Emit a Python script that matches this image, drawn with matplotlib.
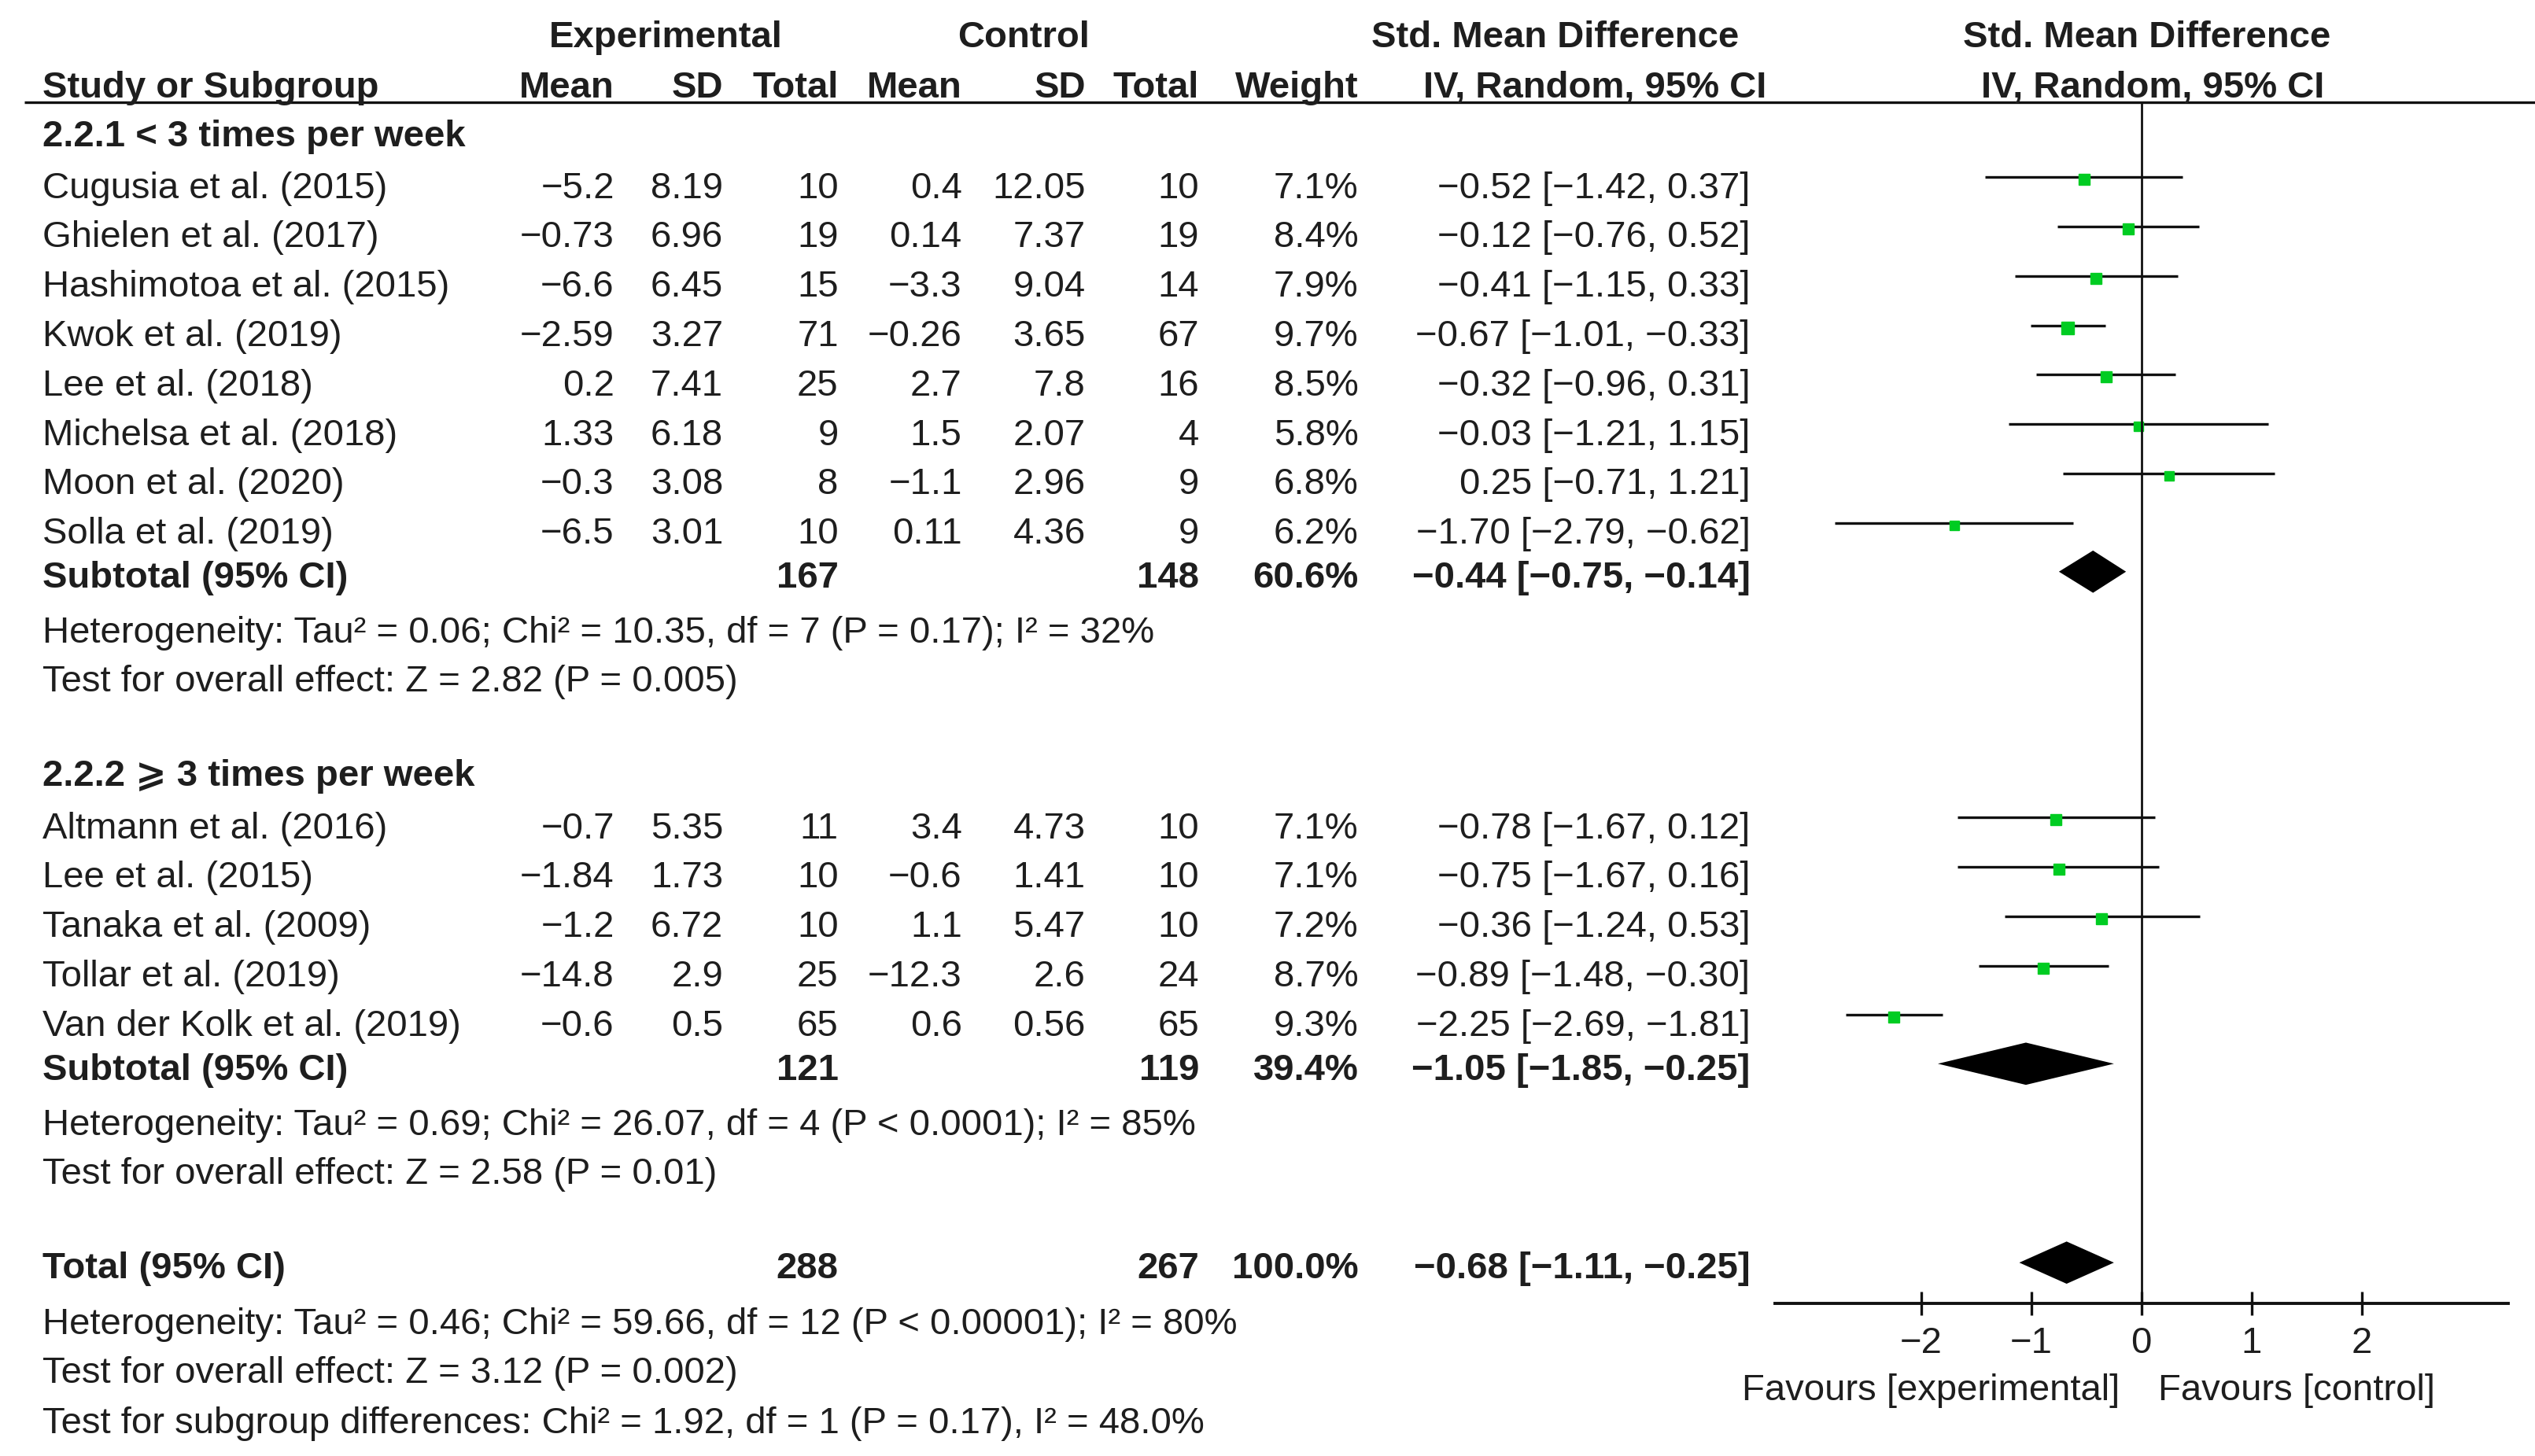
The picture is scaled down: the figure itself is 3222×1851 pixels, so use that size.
import numpy as np
import matplotlib
matplotlib.use('Agg')
import matplotlib.pyplot as plt

plt.rcParams['font.family'] = ['Liberation Sans', 'DejaVu Sans']

# --- datos ---
estudios_1 = ['Cugusia et al. (2015)', 'Ghielen et al. (2017)', 'Hashimotoa et al. (2015)',
              'Kwok et al. (2019)', 'Lee et al. (2018)', 'Michelsa et al. (2018)',
              'Moon et al. (2020)', 'Solla et al. (2019)']
exp_media_1 = [-5.2, -0.73, -6.6, -2.59, 0.2, 1.33, -0.3, -6.5]
exp_sd_1 = [8.19, 6.96, 6.45, 3.27, 7.41, 6.18, 3.08, 3.01]
exp_n_1 = [10, 19, 15, 71, 25, 9, 8, 10]
ctl_media_1 = [0.4, 0.14, -3.3, -0.26, 2.7, 1.5, -1.1, 0.11]
ctl_sd_1 = [12.05, 7.37, 9.04, 3.65, 7.8, 2.07, 2.96, 4.36]
ctl_n_1 = [10, 19, 14, 67, 16, 4, 9, 9]
peso_1 = [7.1, 8.4, 7.9, 9.7, 8.5, 5.8, 6.8, 6.2]
smd_1 = [-0.52, -0.12, -0.41, -0.67, -0.32, -0.03, 0.25, -1.70]
inf_1 = [-1.42, -0.76, -1.15, -1.01, -0.96, -1.21, -0.71, -2.79]
sup_1 = [0.37, 0.52, 0.33, -0.33, 0.31, 1.15, 1.21, -0.62]

estudios_2 = ['Altmann et al. (2016)', 'Lee et al. (2015)', 'Tanaka et al. (2009)',
              'Tollar et al. (2019)', 'Van der Kolk et al. (2019)']
exp_media_2 = [-0.7, -1.84, -1.2, -14.8, -0.6]
exp_sd_2 = [5.35, 1.73, 6.72, 2.9, 0.5]
exp_n_2 = [11, 10, 10, 25, 65]
ctl_media_2 = [3.4, -0.6, 1.1, -12.3, 0.6]
ctl_sd_2 = [4.73, 1.41, 5.47, 2.6, 0.56]
ctl_n_2 = [10, 10, 10, 24, 65]
peso_2 = [7.1, 7.1, 7.2, 8.7, 9.3]
smd_2 = [-0.78, -0.75, -0.36, -0.89, -2.25]
inf_2 = [-1.67, -1.67, -1.24, -1.48, -2.69]
sup_2 = [0.12, 0.16, 0.53, -0.30, -1.81]

# subtotales y total: (n_exp, n_ctl, peso, smd, inf, sup)
subtotal_1 = (167, 148, 60.6, -0.44, -0.75, -0.14)
subtotal_2 = (121, 119, 39.4, -1.05, -1.85, -0.25)
total = (288, 267, 100.0, -0.68, -1.11, -0.25)

het_1 = 'Heterogeneity: Tau² = 0.06; Chi² = 10.35, df = 7 (P = 0.17); I² = 32%'
efecto_1 = 'Test for overall effect: Z = 2.82 (P = 0.005)'
het_2 = 'Heterogeneity: Tau² = 0.69; Chi² = 26.07, df = 4 (P < 0.0001); I² = 85%'
efecto_2 = 'Test for overall effect: Z = 2.58 (P = 0.01)'
het_t = 'Heterogeneity: Tau² = 0.46; Chi² = 59.66, df = 12 (P < 0.00001); I² = 80%'
efecto_t = 'Test for overall effect: Z = 3.12 (P = 0.002)'
subgrupos_t = 'Test for subgroup differences: Chi² = 1.92, df = 1 (P = 0.17), I² = 48.0%'

ticks = [-2, -1, 0, 1, 2]


def fmt(v):
    return str(v).replace('-', '\u2212')


def fmt_ic(s, a, b):
    return f'{s:.2f} [{a:.2f}, {b:.2f}]'.replace('-', '\u2212')


# --- figura ---
fig = plt.figure(figsize=(32.22, 18.51), dpi=100)
ax = fig.add_axes([0, 0, 1, 1])
ax.set_xlim(0, 1560)
ax.set_ylim(896, 0)
ax.axis('off')

fax = fig.add_axes([0.7002, 0, 0.9893 - 0.7002, 1])
fax.set_xlim(-3.33, 3.33)
fax.set_ylim(896, 0)
fax.patch.set_alpha(0)
for sp in ['top', 'left', 'right']:
    fax.spines[sp].set_visible(False)
fax.set_yticks([])

fs = 34
col = '#1e1e1e'
verde = '#00cc22'
y_eje = 802

# columnas (borde derecho)
x_nombre = 26
x_cols = [378, 445, 516, 592, 668, 738, 836, 1077]


def txt(x, y, s, ha='right', bold=False):
    ax.text(x, y, s, ha=ha, va='center', fontsize=fs, color=col,
            fontweight='bold' if bold else 'normal')


# cabecera
txt(410, 23, 'Experimental', ha='center', bold=True)
txt(630, 23, 'Control', ha='center', bold=True)
txt(957, 23, 'Std. Mean Difference', ha='center', bold=True)
txt(1321, 23, 'Std. Mean Difference', ha='center', bold=True)
txt(x_nombre, 54, 'Study or Subgroup', ha='left', bold=True)
for x, s in zip(x_cols[:7], ['Mean', 'SD', 'Total', 'Mean', 'SD', 'Total', 'Weight']):
    txt(x, 54, s, bold=True)
txt(1087, 54, 'IV, Random, 95% CI', bold=True)
txt(1325, 54, 'IV, Random, 95% CI', ha='center', bold=True)
ax.plot([15, 1560], [63, 63], color='#111111', lw=2.4, solid_capstyle='butt')


def grupo(y0, titulo, estudios, em, es, en, cm, cs, cn, w, s, a, b, sub, het, efe):
    txt(x_nombre, y0, titulo, ha='left', bold=True)
    ys = y0 + 32 + 30.4 * np.arange(len(estudios))
    for i, y in enumerate(ys):
        txt(x_nombre, y, estudios[i], ha='left')
        vals = [fmt(em[i]), fmt(es[i]), str(en[i]), fmt(cm[i]), fmt(cs[i]), str(cn[i]),
                f'{w[i]:.1f}%', fmt_ic(s[i], a[i], b[i])]
        for x, v in zip(x_cols, vals):
            txt(x, y, v)
        yl = y - 7
        fax.plot([a[i], b[i]], [yl, yl], color='#111111', lw=2.4, solid_capstyle='butt')
        fax.plot(s[i], yl + 1.5, marker='s', ms=10 * np.sqrt(w[i] / 8.0),
                 color=verde, mec=verde, ls='none')
    ysub = ys[-1] + 27
    txt(x_nombre, ysub, 'Subtotal (95% CI)', ha='left', bold=True)
    diamante(ysub, sub)
    txt(x_nombre, ysub + 34, het, ha='left')
    txt(x_nombre, ysub + 64, efe, ha='left')


def diamante(y, d):
    n1, n2, w, s, a, b = d
    txt(x_cols[2], y, str(n1), bold=True)
    txt(x_cols[5], y, str(n2), bold=True)
    txt(x_cols[6], y, f'{w:.1f}%', bold=True)
    txt(x_cols[7], y, fmt_ic(s, a, b), bold=True)
    yd = y - 4
    fax.fill([a, s, b, s], [yd, yd - 13, yd, yd + 13], color='black', lw=0)


grupo(84, '2.2.1 < 3 times per week', estudios_1, exp_media_1, exp_sd_1, exp_n_1,
      ctl_media_1, ctl_sd_1, ctl_n_1, peso_1, smd_1, inf_1, sup_1, subtotal_1, het_1, efecto_1)
grupo(478, '2.2.2 \u2a7e 3 times per week', estudios_2, exp_media_2, exp_sd_2, exp_n_2,
      ctl_media_2, ctl_sd_2, ctl_n_2, peso_2, smd_2, inf_2, sup_2, subtotal_2, het_2, efecto_2)

txt(x_nombre, 781, 'Total (95% CI)', ha='left', bold=True)
diamante(781, total)
txt(x_nombre, 815, het_t, ha='left')
txt(x_nombre, 845, efecto_t, ha='left')
txt(x_nombre, 876, subgrupos_t, ha='left')

# eje del forest plot
fax.plot([0, 0], [63, y_eje], color='#111111', lw=2.0)
fax.spines['bottom'].set_position(('data', y_eje))
fax.spines['bottom'].set_linewidth(2.8)
fax.spines['bottom'].set_color('#111111')
fax.set_xticks(ticks)
fax.set_xticklabels([fmt(t) for t in ticks])
fax.tick_params(axis='x', direction='inout', length=22, width=2.4, color='#111111',
                labelsize=fs, labelcolor=col, pad=10)
fax.text(-0.2, 856, 'Favours [experimental]', ha='right', va='center', fontsize=fs, color=col)
fax.text(0.15, 856, 'Favours [control]', ha='left', va='center', fontsize=fs, color=col)

fig.savefig('out.png', dpi=100)
